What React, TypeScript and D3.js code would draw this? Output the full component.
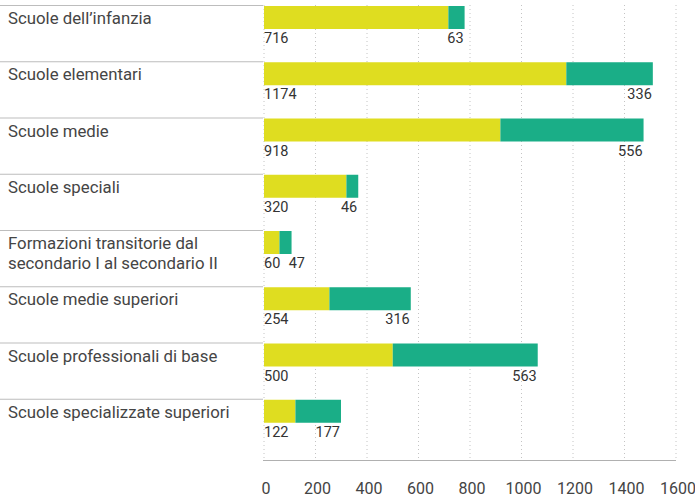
import React from 'react'
import { scaleLinear, scaleBand, range } from 'd3'

const categories = [
    ['Scuole dell\u2019infanzia'],
    ['Scuole elementari'],
    ['Scuole medie'],
    ['Scuole speciali'],
    ['Formazioni transitorie dal', 'secondario I al secondario II'],
    ['Scuole medie superiori'],
    ['Scuole professionali di base'],
    ['Scuole specializzate superiori'],
]
const firstValues = [716, 1174, 918, 320, 60, 254, 500, 122]
const secondValues = [63, 336, 556, 46, 47, 316, 563, 177]
const ticks = [0, 200, 400, 600, 800, 1000, 1200, 1400, 1600]

const YELLOW = '#dfdd20'
const GREEN = '#1aae87'
const FONT = 'Roboto, "DejaVu Sans", sans-serif'

const App = () => {
    const width = 695
    const height = 499
    const x = scaleLinear().domain([0, 1600]).range([264, 676])
    const y = scaleBand<number>()
        .domain(range(categories.length))
        .range([5, 455])
        .paddingInner(0)
    const digitW = 8

    return (
        <svg width={width} height={height}
            style={{ position: 'absolute', left: 0, top: 0, background: '#fff' }}
            fontFamily={FONT}>
            {/* grid */}
            {ticks.map(t => (
                <line key={'g' + t} x1={x(t)} x2={x(t)} y1={5} y2={460}
                    stroke="#c4c4c4" strokeWidth={1} strokeDasharray="1,3" />
            ))}
            {categories.map((lines, i) => {
                const top = y(i) as number
                const a = firstValues[i]
                const b = secondValues[i]
                const x0 = x(0)
                const x1 = x(a)
                const x2 = x(a + b)
                const minRight = x0 + String(a).length * digitW + 9 + String(b).length * digitW
                const right = Math.max(x2 - 1, minRight)
                return (
                    <g key={i}>
                        <line x1={0} x2={263} y1={top + 0.5} y2={top + 0.5} stroke="#bdbdbd" strokeWidth={1.2} />
                        {lines.map((l, k) => (
                            <text key={k} x={8} y={top + 19 + k * 20} fontSize={16.8} fill="#454545">{l}</text>
                        ))}
                        <rect x={x0} y={top + 1} width={x1 - x0} height={23} fill={YELLOW} />
                        <rect x={x1} y={top + 1} width={x2 - x1} height={23} fill={GREEN} />
                        <text x={x0} y={top + 38} fontSize={14.5} fill="#333">{a}</text>
                        <text x={right} y={top + 38} fontSize={14.5} fill="#333" textAnchor="end">{b}</text>
                    </g>
                )
            })}
            {/* axis */}
            <line x1={263} x2={676} y1={460.5} y2={460.5} stroke="#b0b0b0" strokeWidth={1} />
            {ticks.map(t => (
                <text key={'t' + t} x={x(t) + 2} y={494} fontSize={16} fill="#444" textAnchor="middle">{t}</text>
            ))}
        </svg>
    )
}

export default App
